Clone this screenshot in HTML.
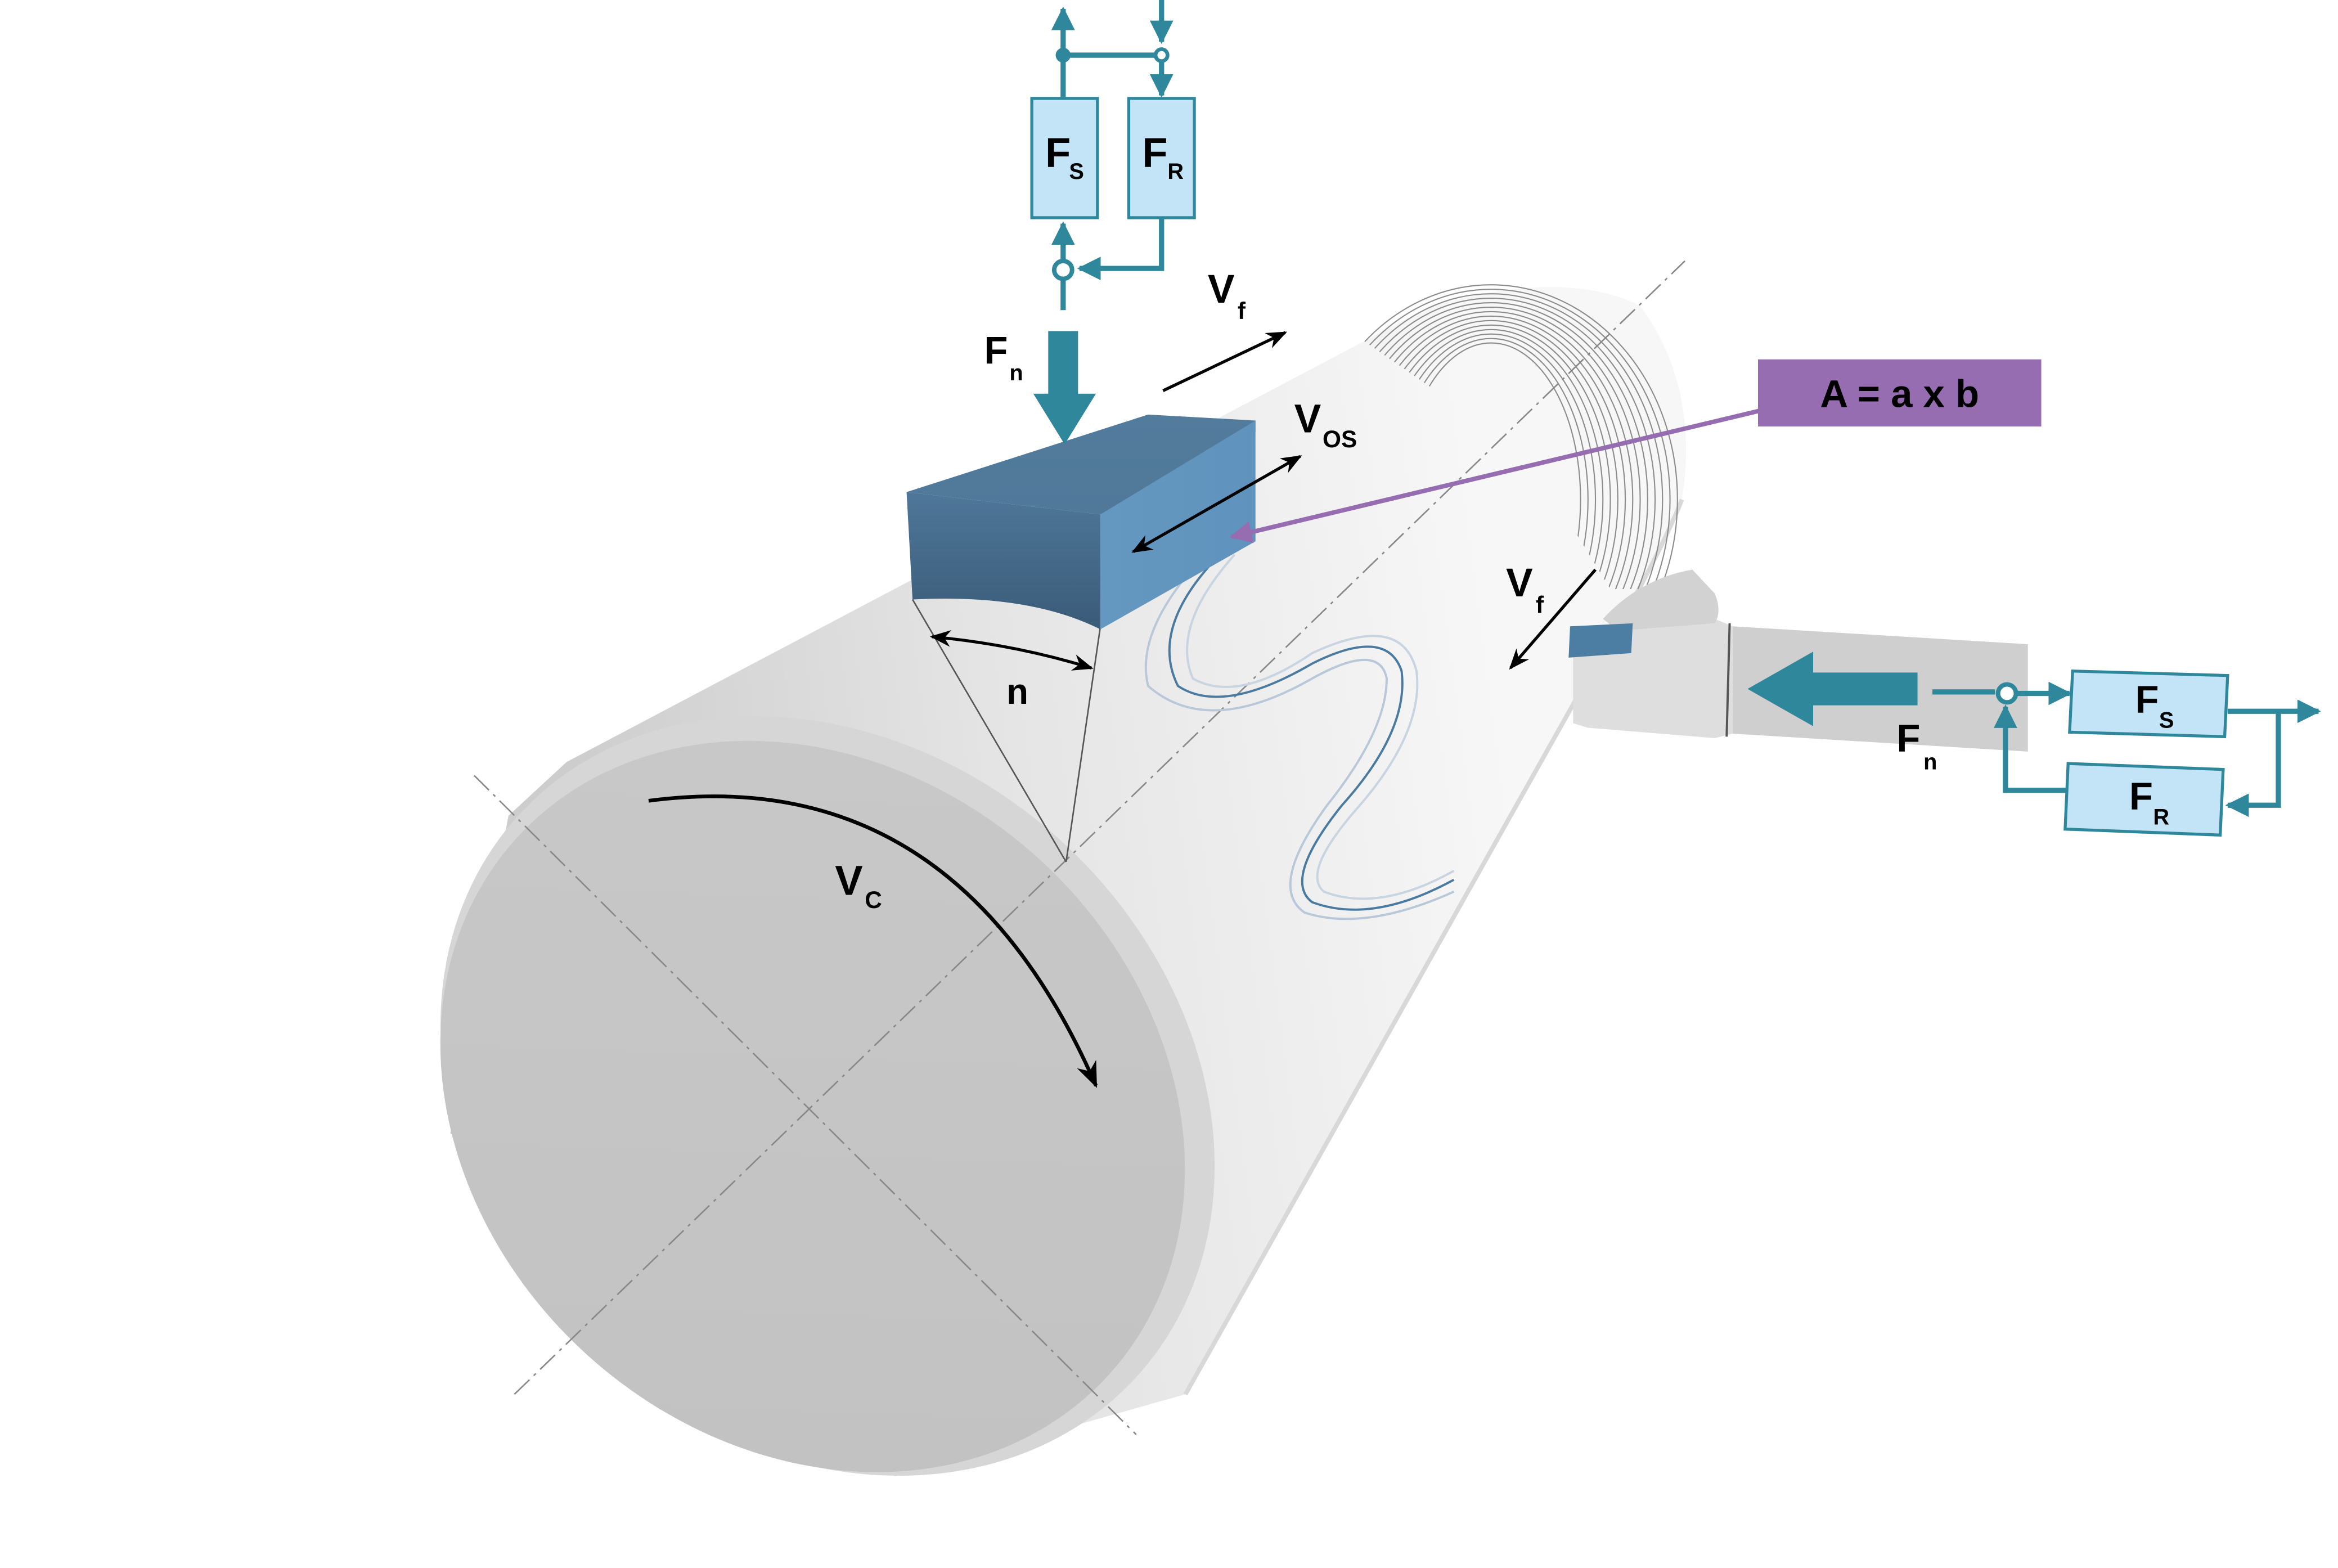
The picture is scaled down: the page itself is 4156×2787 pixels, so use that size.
<!DOCTYPE html>
<html><head><meta charset="utf-8">
<style>
html,body{margin:0;padding:0;background:#fff;}
svg{display:block;}
text{font-family:"Liberation Sans",sans-serif;font-weight:bold;fill:#000;}
</style></head>
<body>
<svg width="4156" height="2787" viewBox="0 0 1568 1051.5" xmlns="http://www.w3.org/2000/svg">
<defs>
<linearGradient id="body" gradientUnits="userSpaceOnUse" x1="380" y1="500" x2="1000" y2="420">
<stop offset="0" stop-color="#cdcdcd"/><stop offset="0.45" stop-color="#e4e4e4"/><stop offset="1" stop-color="#f7f7f7"/>
</linearGradient>
<linearGradient id="face" x1="0" y1="0" x2="1" y2="1">
<stop offset="0" stop-color="#c9c9c9"/><stop offset="1" stop-color="#c1c1c1"/>
</linearGradient>
<linearGradient id="blueTop" x1="0" y1="0" x2="0" y2="1">
<stop offset="0" stop-color="#527b9c"/><stop offset="1" stop-color="#4f7899"/>
</linearGradient>
<linearGradient id="blueFront" x1="0" y1="0" x2="0" y2="1">
<stop offset="0" stop-color="#4f7799"/><stop offset="1" stop-color="#3a5b78"/>
</linearGradient>
<linearGradient id="blueRight" x1="0" y1="0" x2="1" y2="0">
<stop offset="0" stop-color="#6598c0"/><stop offset="1" stop-color="#5f93bd"/>
</linearGradient>
<clipPath id="thr"><path d="M895,215 L1000,180 L1150,180 L1150,395 L1080,395 L1040,330 L960,260z"/></clipPath>
<marker id="ab" viewBox="0 0 10 10" refX="9" refY="5" markerWidth="7" markerHeight="7" orient="auto-start-reverse"><path d="M0,1 L10,5 L0,9 L3,5z" fill="#000"/></marker>
<marker id="at" viewBox="0 0 10 10" refX="9" refY="5" markerWidth="4.5" markerHeight="4.5" orient="auto-start-reverse"><path d="M0,0 L10,5 L0,10z" fill="#2f879c"/></marker>
<marker id="ap" viewBox="0 0 10 10" refX="9" refY="5" markerWidth="5" markerHeight="5" orient="auto"><path d="M0,0 L10,5 L0,10z" fill="#956db0"/></marker>
</defs>

<!-- cylinder body -->
<path d="M341,547 L380,511 L960,205 Q1050,180 1100,205 Q1140,260 1128,335 Q1110,380 1062,460 L795,935 L600,990 L302,760z" fill="url(#body)"/>
<path d="M1128,335 Q1110,380 1062,460 L795,935" fill="none" stroke="#d8d8d8" stroke-width="3"/>
<!-- threaded end -->
<g clip-path="url(#thr)" fill="none" stroke="#8c8c8c" stroke-width="0.8">
<ellipse cx="1000" cy="335" rx="60" ry="105"/><ellipse cx="1000" cy="335" rx="65" ry="108"/>
<ellipse cx="1000" cy="335" rx="70" ry="111"/><ellipse cx="1000" cy="335" rx="75" ry="114"/>
<ellipse cx="1000" cy="335" rx="80" ry="117"/><ellipse cx="1000" cy="335" rx="85" ry="120"/>
<ellipse cx="1000" cy="335" rx="90" ry="123"/><ellipse cx="1000" cy="335" rx="95" ry="126"/>
<ellipse cx="1000" cy="335" rx="100" ry="129"/><ellipse cx="1000" cy="335" rx="105" ry="132"/>
<ellipse cx="1000" cy="335" rx="110" ry="135"/><ellipse cx="1000" cy="335" rx="115" ry="138"/>
<ellipse cx="1000" cy="335" rx="120" ry="141"/><ellipse cx="1000" cy="335" rx="125" ry="144"/>
</g>
<!-- end face -->
<ellipse cx="555" cy="735" rx="280" ry="232" transform="rotate(42 555 735)" fill="#d6d6d6"/>
<ellipse cx="545" cy="742" rx="268" ry="225" transform="rotate(42 545 742)" fill="url(#face)"/>
<!-- center lines -->
<g stroke="#888" stroke-width="1" stroke-dasharray="14,4,2,4" fill="none">
<line x1="318" y1="520" x2="762" y2="962"/>
<line x1="345" y1="935" x2="1130" y2="175"/>
</g>
<!-- wavy paths -->
<g fill="none" stroke-width="1.5">
<path d="M820,370 Q770,420 790,460 Q820,480 880,445 Q930,420 940,450 Q945,490 900,540 Q860,590 880,605 Q920,620 975,590" stroke="#4a7aa0"/>
<path d="M815,365 Q760,420 770,460 Q810,495 880,455 Q925,430 930,455 Q930,490 890,540 Q850,595 875,612 Q915,625 975,598" stroke="#b8c8d8"/>
<path d="M828,372 Q785,420 800,455 Q830,472 880,438 Q940,410 950,450 Q955,490 912,540 Q872,585 888,598 Q925,612 975,584" stroke="#c8d4e0"/>
</g>
<!-- n triangle -->
<g stroke="#555" stroke-width="1" fill="none">
<line x1="612" y1="402" x2="715" y2="578"/>
<line x1="738" y1="420" x2="715" y2="578"/>
</g>
<path d="M625,427 Q680,432 732,448" fill="none" stroke="#000" stroke-width="2" marker-start="url(#ab)" marker-end="url(#ab)"/>
<text x="675" y="472" font-size="24">n</text>
<!-- Vc arc -->
<path d="M435,537 Q640,510 735,728" fill="none" stroke="#000" stroke-width="2.5" marker-end="url(#ab)"/>
<text x="560" y="600" font-size="28">V</text><text x="580" y="609" font-size="16">C</text>

<!-- blue block -->
<path d="M608,330 L770,278 L842,282 L842,290 L738,345z" fill="url(#blueTop)"/>
<path d="M608,330 L738,345 L738,422 Q690,398 612,402z" fill="url(#blueFront)"/>
<path d="M738,345 L842,282 L842,363 L738,422z" fill="url(#blueRight)"/>
<!-- Fn top arrow -->
<rect x="703" y="222" width="20" height="44" fill="#2f879c"/>
<path d="M693,264 L735,264 L714,298z" fill="#2f879c"/>
<text x="660" y="244" font-size="26">F</text><text x="677" y="255" font-size="15">n</text>
<!-- Vf top -->
<line x1="780" y1="262" x2="862" y2="223" stroke="#000" stroke-width="2" marker-end="url(#ab)"/>
<text x="810" y="203" font-size="27">V</text><text x="830" y="214" font-size="16">f</text>
<!-- Vos -->
<line x1="760" y1="370" x2="872" y2="306" stroke="#000" stroke-width="2" marker-start="url(#ab)" marker-end="url(#ab)"/>
<text x="868" y="290" font-size="27">V</text><text x="887" y="300" font-size="16">OS</text>
<!-- A = a x b -->
<line x1="1182" y1="275" x2="826" y2="360" stroke="#956db0" stroke-width="3" marker-end="url(#ap)"/>
<rect x="1179" y="241" width="190" height="45" fill="#956db0"/>
<text x="1274" y="273" font-size="26" text-anchor="middle">A = a x b</text>

<!-- top block diagram -->
<g stroke="#2f879c" stroke-width="3.5" fill="none">
<line x1="713" y1="65" x2="713" y2="6" marker-end="url(#at)"/>
<line x1="713" y1="37" x2="779" y2="37"/>
<line x1="779" y1="0" x2="779" y2="28" marker-end="url(#at)"/>
<line x1="779" y1="40" x2="779" y2="64" marker-end="url(#at)"/>
<line x1="713" y1="208" x2="713" y2="188"/>
<line x1="713" y1="174" x2="713" y2="150" marker-end="url(#at)"/>
<polyline points="779,146 779,180 724,180" marker-end="url(#at)"/>
</g>
<circle cx="713" cy="37" r="5" fill="#2f879c"/>
<circle cx="779" cy="37" r="4" fill="#fff" stroke="#2f879c" stroke-width="2.5"/>
<circle cx="713" cy="181" r="6" fill="#fff" stroke="#2f879c" stroke-width="3"/>
<rect x="692" y="66" width="44" height="80" fill="#c2e4f6" stroke="#2f879c" stroke-width="2"/>
<rect x="757" y="66" width="44" height="80" fill="#c2e4f6" stroke="#2f879c" stroke-width="2"/>
<text x="701" y="112" font-size="28">F</text><text x="717" y="120" font-size="15">S</text>
<text x="766" y="112" font-size="28">F</text><text x="783" y="120" font-size="15">R</text>

<!-- right tool -->
<path d="M1162,420 L1360,432 L1360,504 L1162,492z" fill="#cfcfcf"/>
<path d="M1055,430 L1085,418 L1150,415 L1162,420 L1162,492 L1150,495 L1065,488 L1055,485z" fill="#dedede"/>
<path d="M1075,415 Q1100,388 1135,382 L1150,398 Q1155,410 1150,418 L1085,423z" fill="#d2d2d2"/>
<line x1="1160" y1="418" x2="1158" y2="494" stroke="#555" stroke-width="1.5"/>
<path d="M1053,420 L1095,418 L1094,438 L1052,441z" fill="#4c7da2"/>
<!-- right Fn arrow -->
<rect x="1212" y="451" width="74" height="22" fill="#2f879c"/>
<path d="M1216,437 L1216,487 L1172,462z" fill="#2f879c"/>
<text x="1272" y="504" font-size="26">F</text><text x="1290" y="516" font-size="15">n</text>
<!-- Vf right -->
<line x1="1070" y1="382" x2="1013" y2="448" stroke="#000" stroke-width="2" marker-end="url(#ab)"/>
<text x="1010" y="400" font-size="27">V</text><text x="1030" y="411" font-size="16">f</text>
<!-- right block diagram -->
<g stroke="#2f879c" stroke-width="3.5" fill="none">
<line x1="1296" y1="464" x2="1338" y2="464"/>
<line x1="1353" y1="465" x2="1388" y2="465" marker-end="url(#at)"/>
<polyline points="1494,477 1555,477" marker-end="url(#at)"/>
<polyline points="1528,477 1528,540 1494,540" marker-end="url(#at)"/>
<polyline points="1386,530 1345,530 1345,474" marker-end="url(#at)"/>
</g>
<circle cx="1346" cy="465" r="6" fill="#fff" stroke="#2f879c" stroke-width="3"/>
<path d="M1390,450 L1494,453 L1492,494 L1388,491z" fill="#c2e4f6" stroke="#2f879c" stroke-width="2"/>
<path d="M1387,512 L1491,516 L1489,560 L1385,556z" fill="#c2e4f6" stroke="#2f879c" stroke-width="2"/>
<text x="1432" y="478" font-size="26">F</text><text x="1448" y="488" font-size="15">S</text>
<text x="1428" y="543" font-size="26">F</text><text x="1444" y="553" font-size="15">R</text>
</svg>
</body></html>
